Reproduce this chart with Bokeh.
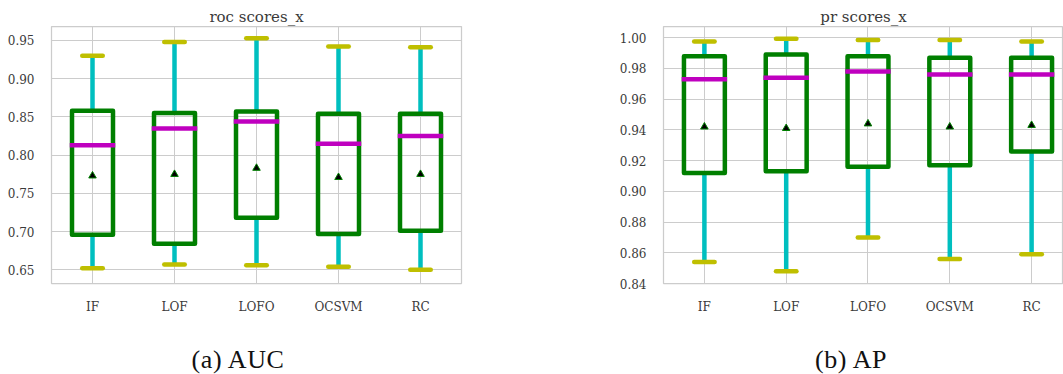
from bokeh.plotting import figure
from bokeh.models import Range1d, FixedTicker, NumeralTickFormatter, Div, Spacer
from bokeh.layouts import row, column
from bokeh.embed import file_html
from bokeh.resources import INLINE

# ---------------- data ----------------
categories = ["IF", "LOF", "LOFO", "OCSVM", "RC"]

roc_low = [0.652, 0.657, 0.656, 0.654, 0.650]
roc_q1 = [0.696, 0.684, 0.718, 0.697, 0.701]
roc_median = [0.813, 0.835, 0.844, 0.815, 0.825]
roc_q3 = [0.858, 0.855, 0.857, 0.854, 0.854]
roc_high = [0.930, 0.948, 0.953, 0.942, 0.941]
roc_mean = [0.773, 0.775, 0.783, 0.771, 0.775]
roc_ticks = [0.65, 0.70, 0.75, 0.80, 0.85, 0.90, 0.95]

pr_low = [0.854, 0.848, 0.870, 0.856, 0.859]
pr_q1 = [0.912, 0.913, 0.916, 0.917, 0.926]
pr_median = [0.973, 0.974, 0.978, 0.976, 0.976]
pr_q3 = [0.988, 0.989, 0.988, 0.987, 0.987]
pr_high = [0.9976, 0.9993, 0.9985, 0.9985, 0.9976]
pr_mean = [0.942, 0.941, 0.944, 0.942, 0.943]
pr_ticks = [0.84, 0.86, 0.88, 0.90, 0.92, 0.94, 0.96, 0.98, 1.00]

# ---------------- styles ----------------
BOX = "#007f00"
WHISK = "#00bfbf"
CAP = "#bfbf00"
MED = "#bf00bf"
GRID = "#cccccc"
TXT = "#3a3a3a"
FONT = "DejaVu Serif"


def make_box(title, low, q1, med, q3, high, mean, ticks, fmt, yr, xr_end,
             width, mb_left, mb_right):
    p = figure(width=width, height=318, output_backend="svg", toolbar_location=None,
               x_range=Range1d(0.5, xr_end), y_range=Range1d(*yr),
               min_border_left=mb_left, min_border_right=mb_right,
               min_border_top=26, min_border_bottom=35, title=title)
    p.title.align = "center"
    p.title.text_font = FONT
    p.title.text_font_size = "15px"
    p.title.text_font_style = "normal"
    p.title.text_color = TXT
    p.title.standoff = 1

    pos = [i + 1 for i in range(len(categories))]
    hw = 0.25
    cw = 0.125

    p.segment(x0=pos, y0=q3, x1=pos, y1=high, line_color=WHISK, line_width=4.5)
    p.segment(x0=pos, y0=q1, x1=pos, y1=low, line_color=WHISK, line_width=4.5)
    p.quad(left=[x - hw for x in pos], right=[x + hw for x in pos], bottom=q1, top=q3,
           fill_color=None, line_color=BOX, line_width=4.5, line_join="round")
    p.segment(x0=[x - hw for x in pos], y0=med, x1=[x + hw for x in pos], y1=med,
              line_color=MED, line_width=4.5, line_cap="square")
    p.segment(x0=[x - cw for x in pos], y0=high, x1=[x + cw for x in pos], y1=high,
              line_color=CAP, line_width=4.5, line_cap="round")
    p.segment(x0=[x - cw for x in pos], y0=low, x1=[x + cw for x in pos], y1=low,
              line_color=CAP, line_width=4.5, line_cap="round")
    p.scatter(x=pos, y=mean, marker="triangle", size=7.5, fill_color="black",
              line_color=BOX, line_width=1)

    p.xaxis.ticker = FixedTicker(ticks=pos)
    p.xaxis.major_label_overrides = {x: c for x, c in zip(pos, categories)}
    p.yaxis.ticker = FixedTicker(ticks=ticks)
    p.yaxis.formatter = NumeralTickFormatter(format=fmt)
    for ax in (p.xaxis, p.yaxis):
        ax.axis_line_color = None
        ax.major_tick_line_color = None
        ax.minor_tick_line_color = None
        ax.major_label_text_font = FONT
        ax.major_label_text_font_size = "12px"
        ax.major_label_text_color = TXT
    p.xaxis.major_label_standoff = 10
    p.yaxis.major_label_standoff = 11
    p.xgrid.grid_line_color = GRID
    p.ygrid.grid_line_color = GRID
    p.outline_line_color = GRID
    p.outline_line_width = 1.25
    return p


p1 = make_box("roc scores_x", roc_low, roc_q1, roc_median, roc_q3, roc_high, roc_mean,
              roc_ticks, "0.00", (0.6321, 0.9683), 5.5, 470, 51, 9)
p2 = make_box("pr scores_x", pr_low, pr_q1, pr_median, pr_q3, pr_high, pr_mean,
              pr_ticks, "0.00", (0.84, 1.0073), 5.39, 593, 193, 0)

cap_style = {"font-family": "Liberation Serif", "font-size": "26px",
             "letter-spacing": "0.6px", "text-align": "center", "color": "#111111"}
d1 = Div(text='<div style="padding-top:18px">(a) AUC</div>', width=466, height=56,
         styles=cap_style)
d2 = Div(text='<div style="padding-top:18px">(b) AP</div>', width=300, height=56,
         styles=cap_style)

layout = column(row(p1, p2), row(d1, Spacer(width=220, height=56), d2))

open("out.html", "w").write(file_html(layout, INLINE))
